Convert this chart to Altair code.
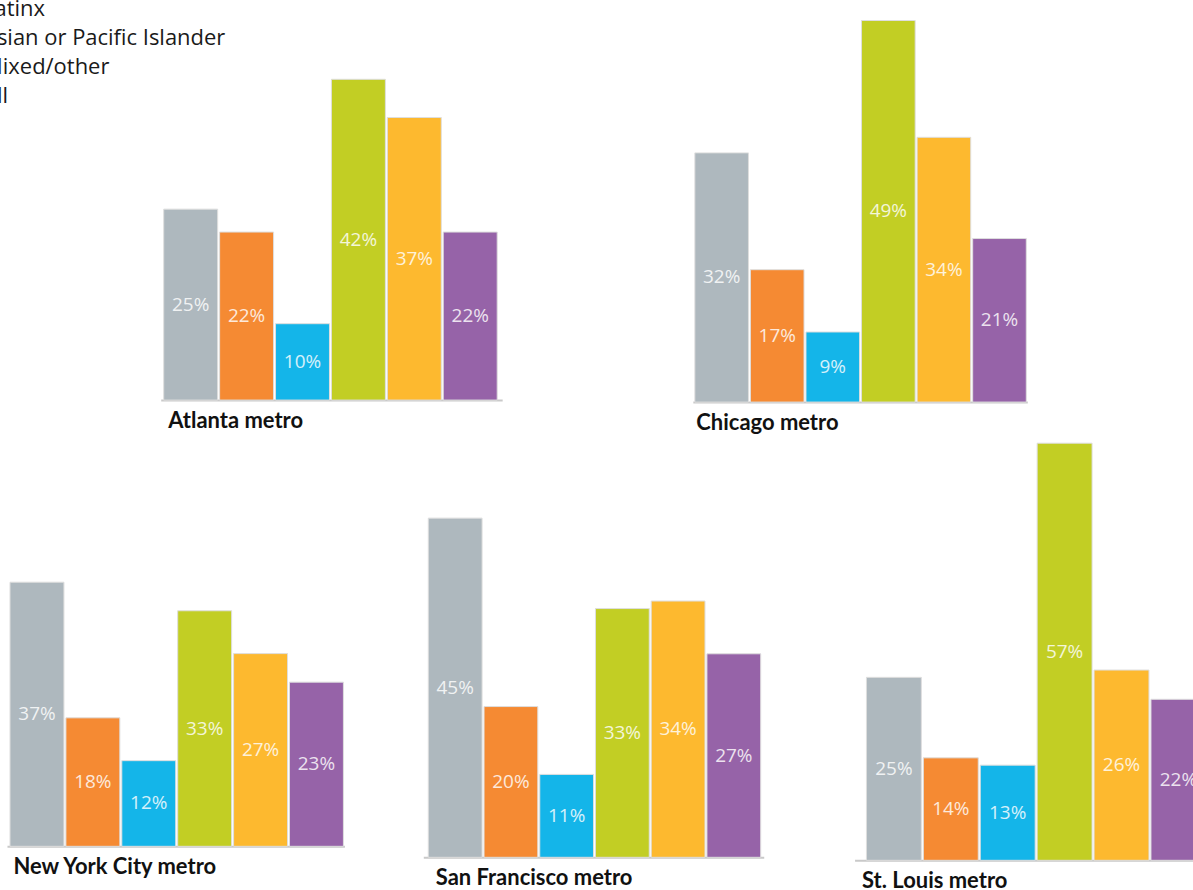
import altair as alt
import pandas as pd

# Groups and colours, in bar order
groups = ["White", "Black", "Latinx", "Asian or Pacific Islander", "Mixed/other", "All"]
colors = ["#aeb8be", "#f58a33", "#14b5e9", "#c2ce24", "#fdb92f", "#9663a8"]

# Share (%) per group for each metro
atlanta = [25, 22, 10, 42, 37, 22]
chicago = [32, 17, 9, 49, 34, 21]
new_york = [37, 18, 12, 33, 27, 23]
san_francisco = [45, 20, 11, 33, 34, 27]
st_louis = [25, 14, 13, 57, 26, 22]

metros = ["Atlanta metro", "Chicago metro", "New York City metro",
          "San Francisco metro", "St. Louis metro"]
series = [atlanta, chicago, new_york, san_francisco, st_louis]

# Panel geometry: width, height, pixels per percentage point,
# outer band padding, band alignment, title x offset
layout = {
    "Atlanta metro":       dict(w=342, h=400, k=7.65, po=0.071, al=0.375, tx=7),
    "Chicago metro":       dict(w=335, h=402, k=7.80, po=0.027, al=0.67, tx=3),
    "New York City metro": dict(w=338, h=411, k=7.15, po=0.036, al=0.75, tx=6),
    "San Francisco metro": dict(w=341, h=422, k=7.55, po=0.072, al=0.625, tx=12),
    "St. Louis metro":     dict(w=357, h=425, k=7.33, po=0.149, al=0.70, tx=7),
}

LABEL_FONT = "Open Sans"
TITLE_FONT = "Lato"


def panel(name, values, legend=None):
    g = layout[name]
    df = pd.DataFrame({"group": groups, "value": values})
    ymax = g["h"] / g["k"]
    x = alt.X(
        "group:N",
        sort=groups,
        scale=alt.Scale(domain=groups, paddingInner=0.035,
                        paddingOuter=g["po"], align=g["al"]),
        axis=alt.Axis(
            labels=False, ticks=False, grid=False,
            domain=True, domainColor="#c9c9c9", domainWidth=2,
            title=name, titleFont=TITLE_FONT, titleFontSize=22,
            titleFontWeight="bold", titleColor="#111111",
            titleAlign="left", titleAnchor="start",
            titleBaseline="alphabetic", titleX=g["tx"], titleY=27,
        ),
    )
    yscale = alt.Scale(domain=[0, ymax], nice=False, zero=True)
    base = alt.Chart(df).encode(x=x)
    bars = base.mark_bar(stroke="#dedede", strokeWidth=1).encode(
        y=alt.Y("value:Q", scale=yscale, axis=None),
        color=alt.Color("group:N",
                        scale=alt.Scale(domain=groups, range=colors),
                        legend=legend),
    )
    labels = base.transform_calculate(
        mid="datum.value / 2", label="datum.value + '%'"
    ).mark_text(
        baseline="middle", align="center", color="white", opacity=0.82,
        font=LABEL_FONT, fontSize=19,
    ).encode(
        y=alt.Y("mid:Q", scale=yscale, axis=None),
        text="label:N",
    )
    return alt.layer(bars, labels).properties(width=g["w"], height=g["h"])


legend = alt.Legend(
    orient="none", legendX=-208, legendY=-61, title=None,
    labelFont=LABEL_FONT, labelFontSize=22, labelColor="#1a1a1a",
    labelLimit=400, labelOffset=8, symbolType="square", symbolSize=196,
    symbolStrokeWidth=0, rowPadding=7, padding=0,
)

charts = [panel(m, s, legend if i == 0 else None)
          for i, (m, s) in enumerate(zip(metros, series))]


def spacer(width):
    # Empty view used to indent a row
    return alt.Chart(pd.DataFrame({"v": [0]})).mark_point(opacity=0).properties(
        width=width, height=10
    )


def indep(c):
    return c.resolve_scale(color="independent").resolve_legend(color="independent")


row1 = indep(alt.hconcat(
    spacer(1),
    indep(alt.hconcat(charts[0], charts[1], spacing=191)),
    spacing=0,
))
row2 = indep(alt.hconcat(
    spacer(58),
    indep(alt.hconcat(
        indep(alt.hconcat(charts[2], charts[3], spacing=79)),
        charts[4],
        spacing=91,
    )),
    spacing=0,
))

chart = indep(alt.vconcat(row1, row2, spacing=3)).properties(
    padding={"left": -54, "top": -61, "right": -18, "bottom": -4},
    background="white",
).configure_view(stroke=None)

chart.save("out.html", embed_options={"renderer": "svg", "actions": False})
